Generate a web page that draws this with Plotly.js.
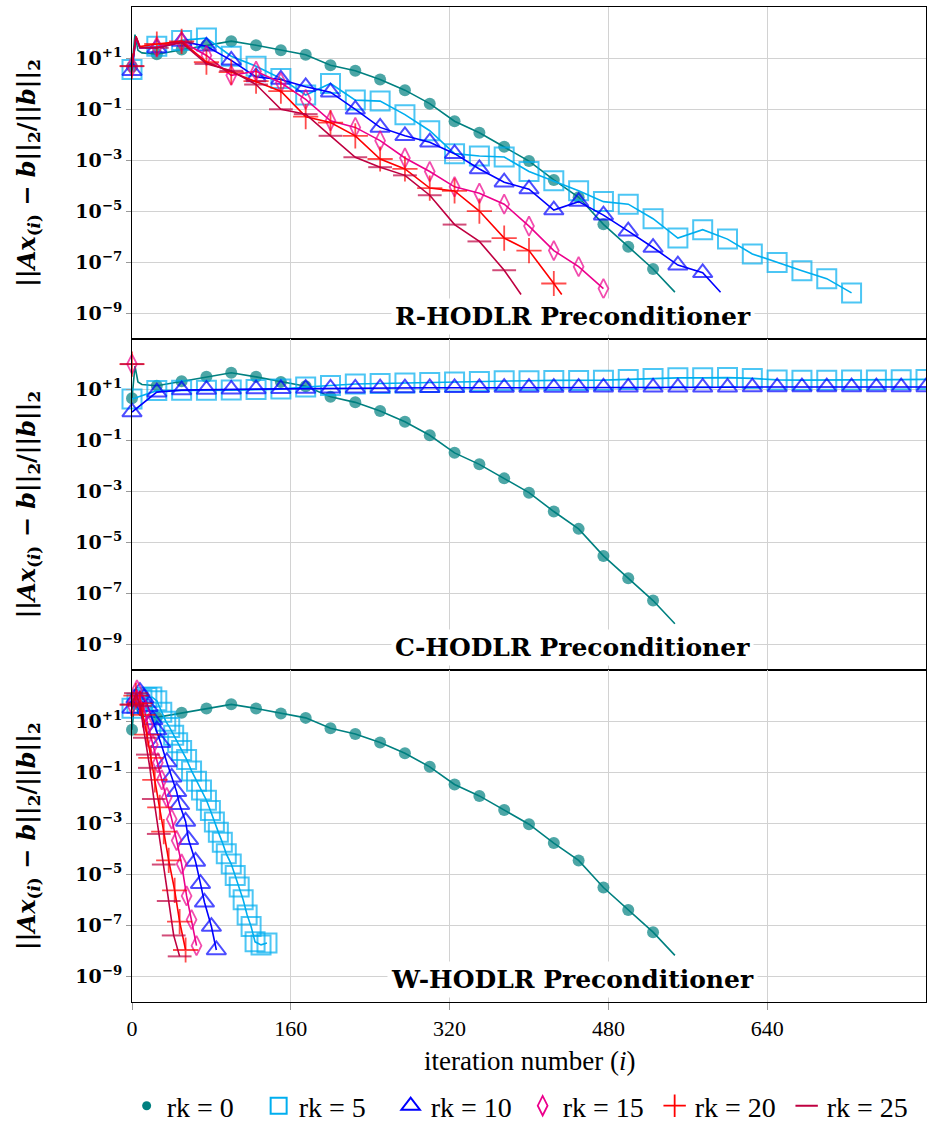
<!DOCTYPE html>
<html>
<head>
<meta charset="utf-8">
<script src="https://cdn.plot.ly/plotly-3.0.1.min.js"></script>
<style>html,body{margin:0;padding:0;background:#fff;}#chart{width:927px;height:1131px;}</style>
</head>
<body>
<div id="chart"></div>
<script>
// ---------- DATA (log10 of relative residual) ----------
const seriesNames = ["rk = 0", "rk = 5", "rk = 10", "rk = 15", "rk = 20", "rk = 25"];
const panelLabels = ["R-HODLR Preconditioner", "C-HODLR Preconditioner", "W-HODLR Preconditioner"];
const xTickVals = [0, 160, 320, 480, 640];
const yTickExp = [-9, -7, -5, -3, -1, 1];

// rk = 0 (no low-rank update): identical in all three panels
const rk0_x = [0, 3, 6, 10, 25, 50, 75, 100, 125, 150, 175, 200, 225, 250, 275, 300, 325, 350, 375, 400, 425, 450, 475, 500, 525, 547];
const rk0_y = [0.66, 1.92, 1.3, 1.2, 1.15, 1.33, 1.5, 1.66, 1.5, 1.3, 1.13, 0.72, 0.5, 0.16, -0.26, -0.79, -1.48, -1.93, -2.48, -3.04, -3.78, -4.46, -5.52, -6.4, -7.27, -8.18];

// R-HODLR panel
const R_rk5_x = [0, 4, 8, 25, 50, 75, 100, 125, 150, 175, 200, 225, 250, 275, 300, 325, 350, 375, 400, 425, 450, 475, 500, 525, 550, 575, 600, 625, 650, 675, 700, 725];
const R_rk5_y = [0.55, 1.8, 1.4, 1.46, 1.69, 1.78, 1.07, 0.68, 0.20, -0.45, 0.0, -0.65, -0.69, -1.22, -1.85, -2.75, -2.84, -2.88, -3.45, -3.81, -4.2, -4.63, -4.73, -5.30, -6.06, -5.73, -6.10, -6.68, -7.02, -7.34, -7.65, -8.21];
const R_rk10_x = [0, 4, 8, 25, 50, 75, 100, 125, 150, 175, 200, 225, 250, 275, 300, 325, 350, 375, 400, 425, 450, 475, 500, 525, 550, 575, 593];
const R_rk10_y = [0.5, 1.8, 1.4, 1.39, 1.65, 1.46, 0.91, 0.26, 0.16, -0.13, -0.34, -1.01, -1.72, -2.05, -2.3, -2.75, -3.35, -3.87, -4.14, -4.96, -4.63, -5.16, -5.79, -6.43, -7.12, -7.42, -8.18];
const R_rk15_x = [0, 4, 8, 25, 50, 75, 100, 125, 150, 175, 200, 225, 250, 275, 300, 325, 350, 375, 400, 425, 450, 475];
const R_rk15_y = [0.68, 1.8, 1.4, 1.43, 1.65, 1.1, 0.32, 0.48, 0.03, -0.62, -1.46, -1.72, -2.24, -2.92, -3.45, -4.05, -4.30, -4.73, -5.59, -6.55, -7.18, -8.04];
const R_rk20_x = [0, 4, 8, 25, 50, 75, 100, 125, 150, 175, 200, 225, 250, 275, 300, 325, 350, 375, 400, 425, 433];
const R_rk20_y = [0.68, 1.85, 1.45, 1.55, 1.65, 0.84, 0.45, 0.09, -0.30, -1.3, -1.53, -2.05, -2.96, -3.35, -4.1, -4.21, -5.0, -6.06, -6.55, -7.84, -8.27];
const R_rk25_x = [0, 4, 8, 25, 50, 75, 100, 125, 150, 175, 200, 225, 250, 275, 300, 325, 350, 375, 392];
const R_rk25_y = [0.68, 1.84, 1.4, 1.4, 1.6, 0.77, 0.5, -0.04, -1.01, -1.2, -2.05, -2.89, -3.28, -3.6, -4.38, -5.53, -6.19, -7.32, -8.27];

// C-HODLR panel
const C_rk5_x = [0, 25, 50, 75, 100, 125, 150, 175, 200, 225, 250, 275, 300, 325, 350, 375, 400, 425, 450, 475, 500, 525, 550, 575, 600, 625, 650, 675, 700, 725, 750, 775, 800];
const C_rk5_y = [0.63, 0.96, 0.97, 0.97, 0.98, 1.0, 1.02, 1.10, 1.16, 1.22, 1.24, 1.26, 1.28, 1.30, 1.32, 1.35, 1.35, 1.36, 1.36, 1.37, 1.40, 1.44, 1.46, 1.46, 1.47, 1.44, 1.38, 1.37, 1.37, 1.38, 1.38, 1.39, 1.40];
const C_rk10_x = [0, 25, 50, 75, 100, 125, 150, 175, 200, 225, 250, 275, 300, 325, 350, 375, 400, 425, 450, 475, 500, 525, 550, 575, 600, 625, 650, 675, 700, 725, 750, 775, 800];
const C_rk10_y = [0.12, 0.9, 0.98, 1.0, 1.01, 1.02, 1.03, 1.04, 1.05, 1.05, 1.06, 1.06, 1.07, 1.07, 1.07, 1.08, 1.08, 1.08, 1.08, 1.09, 1.09, 1.09, 1.09, 1.09, 1.09, 1.10, 1.10, 1.10, 1.10, 1.10, 1.10, 1.10, 1.10];
const C_rk15_x = [0];
const C_rk15_y = [2.0];
const C_rk20_x = [0];
const C_rk20_y = [2.0];
const C_rk25_x = [0];
const C_rk25_y = [2.0];

// W-HODLR panel
const W_rk5_x = [0, 5, 10, 15, 20, 25, 30, 34, 38, 42, 46, 50, 55, 60, 65, 70, 75, 79, 83, 87, 91, 95, 100, 104, 108, 112, 116, 120, 124, 130, 136];
const W_rk5_y = [1.51, 1.7, 1.85, 1.93, 1.95, 1.8, 1.35, 1.0, 0.75, 0.45, 0.15, -0.15, -0.5, -0.95, -1.35, -1.7, -2.1, -2.5, -2.95, -3.35, -3.75, -4.2, -4.6, -5.05, -5.5, -6.0, -6.6, -7.05, -7.65, -7.77, -7.7];
const W_rk10_x = [0, 4, 8, 12, 16, 21, 25, 29, 35, 40, 45, 48, 54, 57, 64, 69, 73, 80, 85];
const W_rk10_y = [1.5, 1.9, 2.16, 1.9, 1.57, 1.05, 0.65, 0.15, -0.6, -1.2, -1.77, -2.28, -2.93, -3.65, -4.5, -5.37, -6.1, -7.05, -7.97];
const W_rk15_x = [0, 5, 10, 13, 16, 21, 26, 30, 35, 40, 45, 50, 55, 60, 65];
const W_rk15_y = [1.65, 2.22, 1.7, 1.35, 0.86, 0.08, -0.63, -1.3, -1.99, -2.84, -3.68, -4.6, -5.85, -6.78, -7.8];
const W_rk20_x = [0, 4, 8, 11, 15, 19, 23, 28, 32, 37, 43, 48, 54];
const W_rk20_y = [1.65, 2.0, 1.7, 1.25, 0.47, -0.44, -1.3, -2.38, -3.33, -4.46, -5.63, -6.86, -7.97];
const W_rk25_x = [0, 4, 8, 13, 16, 18, 22, 27, 32, 37, 42, 48];
const W_rk25_y = [1.65, 2.1, 1.6, 0.35, -0.31, -0.83, -2.05, -3.42, -4.62, -6.05, -7.4, -8.22];

// ---------- STYLE ----------
const FONT = 'Liberation Serif';
const BFONT = 'DejaVu Serif';
const styles = [
  {color: '#008080', symbol: 'circle', size: 12, lw: 0},
  {color: '#00AEEF', symbol: 'square-open', size: 19, lw: 2},
  {color: '#0000FF', symbol: 'triangle-up-open', size: 17, lw: 2},
  {color: '#EC008C', symbol: 'diamond-tall-open', size: 14, lw: 1.8},
  {color: '#FF0000', symbol: 'cross-thin-open', size: 18, lw: 1.8},
  {color: '#BF0040', symbol: 'line-ew-open', size: 17, lw: 2}
];

const panels = [
  {ax: '', series: [[rk0_x, rk0_y, 25], [R_rk5_x, R_rk5_y, 25], [R_rk10_x, R_rk10_y, 25], [R_rk15_x, R_rk15_y, 25], [R_rk20_x, R_rk20_y, 25], [R_rk25_x, R_rk25_y, 25]]},
  {ax: '2', series: [[rk0_x, rk0_y, 25], [C_rk5_x, C_rk5_y, 25], [C_rk10_x, C_rk10_y, 25], [C_rk15_x, C_rk15_y, 25], [C_rk20_x, C_rk20_y, 25], [C_rk25_x, C_rk25_y, 25]]},
  {ax: '3', series: [[rk0_x, rk0_y, 25], [W_rk5_x, W_rk5_y, 1], [W_rk10_x, W_rk10_y, 1], [W_rk15_x, W_rk15_y, 1], [W_rk20_x, W_rk20_y, 1], [W_rk25_x, W_rk25_y, 1]]}
];

const traces = [];
panels.forEach(p => {
  p.series.forEach((s, i) => {
    const st = styles[i];
    const xs = s[0], ys = s[1], every = s[2];
    traces.push({
      type: 'scatter', mode: 'lines+markers',
      x: xs, y: ys.map(v => Math.pow(10, v)),
      xaxis: 'x' + p.ax, yaxis: 'y' + p.ax,
      line: {color: st.color, width: 1.6},
      marker: {symbol: st.symbol, color: st.color,
               size: xs.map(v => (v % every === 0) ? st.size : 0),
               line: {color: st.color, width: st.lw}},
      cliponaxis: false, showlegend: false, hoverinfo: 'skip'
    });
  });
});
// legend entries (markers only)
styles.forEach((st, i) => {
  traces.push({
    type: 'scatter', mode: 'markers', x: [null], y: [null], xaxis: 'x', yaxis: 'y',
    name: seriesNames[i], showlegend: true,
    marker: {symbol: st.symbol, color: st.color, size: i === 0 ? 9 : st.size, line: {color: st.color, width: st.lw}}
  });
});

const yTickVals = yTickExp.map(e => Math.pow(10, e));
const yTickText = yTickExp.map(e => '<b>10<sup>' + (e > 0 ? '+' : '\u2212') + Math.abs(e) + '</sup></b>');

// plot area spans the paper from top margin to the very bottom; panels occupy its upper part
const H = 1131, TOP = 7, PLOT_BOTTOM = 1008;
const areaH = H - TOP;
const frac = px => (H - px) / areaH;           // pixel row -> fraction of plot area
const pBot = frac(PLOT_BOTTOM);
const pH = (1 - pBot) / 3;

function xax(anchor, showLabels) {
  return {
    domain: [0, 1], anchor: anchor, range: [0, 800], matches: anchor === 'y3' ? undefined : 'x3',
    tickvals: xTickVals, ticktext: xTickVals.map(String),
    showticklabels: showLabels, ticks: showLabels ? 'outside' : '', ticklen: 7, tickcolor: '#999',
    showgrid: true, gridcolor: '#d2d2d2', gridwidth: 1, zeroline: false,
    showline: true, linecolor: '#000', linewidth: 1, mirror: true,
    tickfont: {family: FONT, size: 22, color: '#000'}
  };
}
function yax(anchor, dom) {
  return {
    domain: dom, anchor: anchor, type: 'log', range: [-10, 3],
    tickvals: yTickVals, ticktext: yTickText,
    ticks: 'outside', ticklen: 5, tickcolor: '#999',
    showgrid: true, gridcolor: '#d2d2d2', gridwidth: 1, zeroline: false,
    showline: true, linecolor: '#000', linewidth: 1, mirror: true,
    tickfont: {family: BFONT, size: 19, color: '#000'}
  };
}

const yTitle = '<b>||<i>Ax</i><sub>(<i>i</i>)</sub> \u2212 <i>b</i>||<sub>2</sub>/||<i>b</i>||<sub>2</sub></b>';
const annotations = [];
['y', 'y2', 'y3'].forEach((ya, k) => {
  annotations.push({
    text: '<b>' + panelLabels[k] + '</b>', xref: 'paper', x: 0.555, yref: ya + ' domain', y: 0.068,
    xanchor: 'center', yanchor: 'middle', showarrow: false, bgcolor: '#fff', borderpad: 3,
    font: {family: BFONT, size: 25, color: '#000'}
  });
  annotations.push({
    text: yTitle, xref: 'paper', x: -0.131, yref: ya + ' domain', y: 0.5,
    xanchor: 'center', yanchor: 'middle', textangle: -90, showarrow: false,
    font: {family: BFONT, size: 24, color: '#000'}
  });
});
annotations.push({
  text: 'iteration number (<i>i</i>)', xref: 'paper', x: 0.5, yref: 'paper', y: frac(1068),
  xanchor: 'center', yanchor: 'middle', showarrow: false,
  font: {family: FONT, size: 27, color: '#000'}
});

const layout = {
  width: 927, height: H,
  margin: {l: 132, r: 1, t: TOP, b: 0},
  paper_bgcolor: '#fff', plot_bgcolor: 'rgba(0,0,0,0)',
  font: {family: FONT, color: '#000'},
  showlegend: true,
  legend: {orientation: 'h', x: 0.492, xanchor: 'center', y: frac(1113), yanchor: 'middle',
           font: {family: FONT, size: 28, color: '#000'}, itemwidth: 30, tracegroupgap: 0,
           entrywidth: 87, entrywidthmode: 'pixels',
           bgcolor: 'rgba(0,0,0,0)'},
  xaxis: xax('y', false),
  xaxis2: xax('y2', false),
  xaxis3: xax('y3', true),
  yaxis: yax('x', [pBot + 2 * pH, 1]),
  yaxis2: yax('x2', [pBot + pH, pBot + 2 * pH]),
  yaxis3: yax('x3', [pBot, pBot + pH]),
  annotations: annotations
};

Plotly.newPlot('chart', traces, layout, {staticPlot: true, displayModeBar: false});
</script>
</body>
</html>
